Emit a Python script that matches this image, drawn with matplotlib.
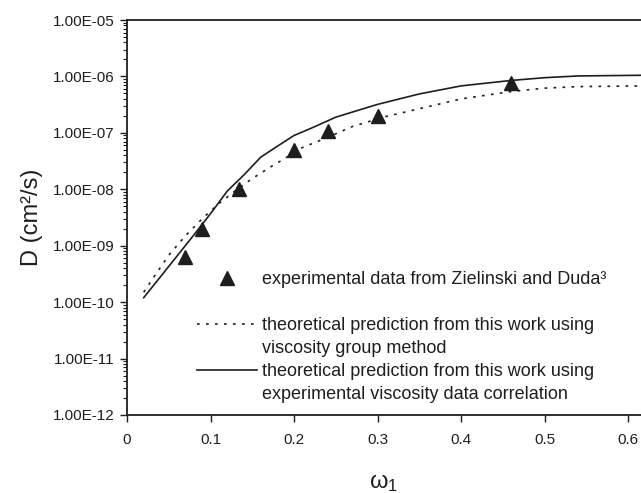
import matplotlib

matplotlib.use('Agg')
import matplotlib.pyplot as plt
from matplotlib.lines import Line2D
from matplotlib.ticker import LogLocator, FuncFormatter, FixedLocator, NullFormatter

plt.rcParams['font.family'] = ['Liberation Sans', 'DejaVu Sans']
plt.rcParams['mathtext.fontset'] = 'custom'
plt.rcParams['mathtext.rm'] = 'Liberation Sans'
plt.rcParams['mathtext.it'] = 'Liberation Sans'
plt.rcParams['mathtext.default'] = 'rm'

INK = '#1e1e1e'
DOTTED = (0, (1.6, 3.8))

# experimental points (Zielinski and Duda)
omega_exp = [0.07, 0.09, 0.134, 0.20, 0.24, 0.30, 0.46]
D_exp = [6.2e-10, 1.95e-9, 1.0e-8, 5.0e-8, 1.1e-7, 2.0e-7, 7.8e-7]

# prediction, viscosity group method
omega_vgm = [0.02, 0.03, 0.05, 0.07, 0.09, 0.11, 0.13, 0.15, 0.17, 0.19,
             0.21, 0.24, 0.27, 0.31, 0.36, 0.40, 0.46, 0.50, 0.54, 0.62]
D_vgm = [1.5e-10, 2.5e-10, 6.8e-10, 1.5e-9, 3.0e-9, 5.6e-9, 9.5e-9, 1.55e-8,
         2.4e-8, 3.6e-8, 5.5e-8, 8.3e-8, 1.3e-7, 1.95e-7, 2.9e-7, 4.0e-7,
         5.4e-7, 6.2e-7, 6.6e-7, 6.8e-7]

# prediction, experimental viscosity data correlation
omega_corr = [0.02, 0.05, 0.08, 0.10, 0.12, 0.14, 0.16, 0.18, 0.20, 0.22,
              0.25, 0.30, 0.35, 0.40, 0.46, 0.50, 0.54, 0.62]
D_corr = [1.2e-10, 4.3e-10, 1.55e-9, 3.7e-9, 9.3e-9, 1.8e-8, 3.7e-8, 5.8e-8,
          9.0e-8, 1.2e-7, 1.9e-7, 3.2e-7, 4.9e-7, 6.8e-7, 8.5e-7, 9.5e-7,
          1.02e-6, 1.05e-6]

x_ticks = [0, 0.1, 0.2, 0.3, 0.4, 0.5, 0.6]

fig = plt.figure(figsize=(6.41, 4.93), dpi=100)
ax = fig.add_axes([127 / 641, 78 / 493, 514 / 641, 395 / 493])

ax.plot(omega_vgm, D_vgm, color=INK, lw=1.2, ls=DOTTED)
ax.plot(omega_corr, D_corr, color=INK, lw=1.2)
ax.plot(omega_exp, D_exp, ls='none', marker='^', ms=9.5, color=INK)

ax.set_yscale('log')
ax.set_ylim(1e-12, 1e-5)
ax.set_xlim(0, 514 / 835.5)

ax.xaxis.set_major_locator(FixedLocator(x_ticks))
ax.xaxis.set_major_formatter(FuncFormatter(lambda v, p: '0' if v == 0 else '{:g}'.format(v)))
ax.yaxis.set_major_locator(LogLocator(base=10, numticks=20))
ax.yaxis.set_minor_locator(LogLocator(base=10, subs=range(2, 10), numticks=20))
ax.yaxis.set_major_formatter(FuncFormatter(lambda v, p: '{:.2E}'.format(v)))
ax.yaxis.set_minor_formatter(NullFormatter())

ax.tick_params(axis='both', which='major', direction='out', length=5, width=1,
               color=INK, labelcolor=INK, labelsize=11)
ax.tick_params(axis='x', pad=8)
ax.tick_params(axis='y', pad=4)
ax.tick_params(axis='y', which='minor', direction='out', length=3, width=0.8, color=INK)

for side in ['left', 'bottom', 'top']:
    ax.spines[side].set_linewidth(1.3)
    ax.spines[side].set_color(INK)
ax.spines['right'].set_visible(False)

ax.set_ylabel('D (cm²/s)', fontsize=17, color=INK, labelpad=7)
ax.set_xlabel(r'$\omega_1$', fontsize=17, color=INK, labelpad=18)

# legend rows, with empty rows for spacing and continuation lines
blank = Line2D([], [], color='none')
handles = [
    Line2D([], [], ls='none', marker='^', ms=9.5, color=INK),
    blank,
    Line2D([], [], color=INK, lw=1.2, ls=DOTTED),
    blank,
    Line2D([], [], color=INK, lw=1.2),
    blank,
]
labels = [
    'experimental data from Zielinski and Duda³',
    '',
    'theoretical prediction from this work using',
    'viscosity group method',
    'theoretical prediction from this work using',
    'experimental viscosity data correlation',
]
leg = ax.legend(handles, labels, loc='upper left',
                bbox_to_anchor=(197 / 641, 1 - 271 / 493),
                bbox_transform=fig.transFigure, frameon=False, borderpad=0,
                borderaxespad=0, handlelength=3.33, handletextpad=0.28,
                labelspacing=0.33, fontsize=13)
for t in leg.get_texts():
    t.set_color(INK)

fig.savefig('out.png', dpi=100, facecolor='w')
plt.close(fig)
